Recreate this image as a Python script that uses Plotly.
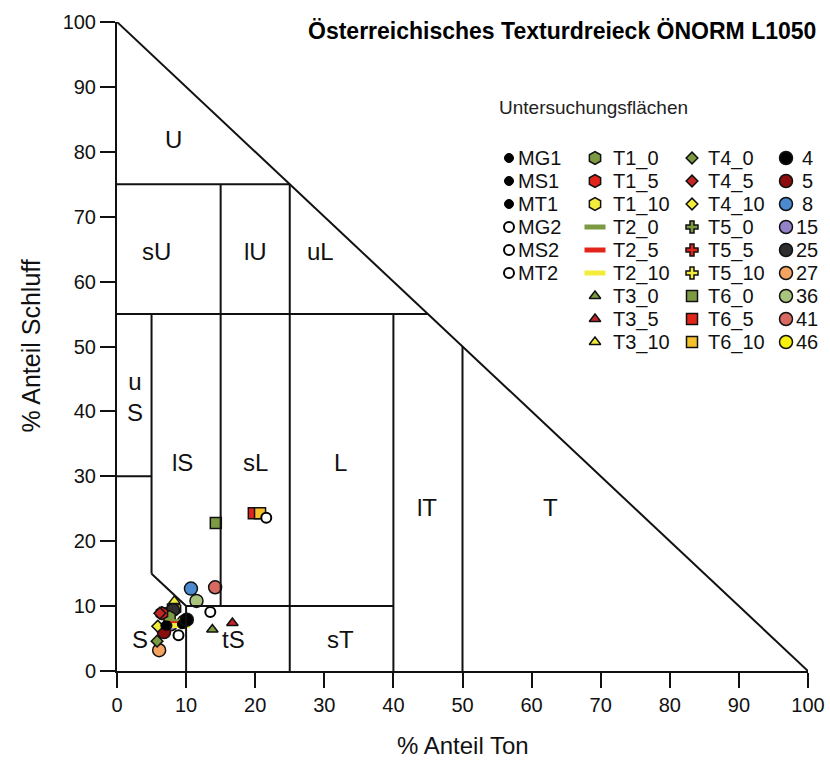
import plotly.graph_objects as go

# --- Sample data: % clay (Ton) and % silt (Schluff) per sampling plot ---
series_names = [
    "T5_0", "T5_5", "T5_10", "46", "15", "T1_10",
    "27", "5", "36", "8", "41", "25",
    "T1_0", "T1_5", "T2_0", "T2_5", "T2_10", "T3_0", "T3_5", "T3_10",
    "T4_0", "T4_5", "T4_10", "T6_0", "T6_5", "T6_10",
    "MG1", "MS1", "MT1", "MG2", "MS2", "MT2", "4",
]
ton = [
    7.2, 8.2, 7.6, 9.7, 7.8, 8.4,
    6.1, 6.8, 11.5, 10.7, 14.2, 8.1,
    7.6, 6.5, 8.6, 8.8, 9.0, 13.8, 16.7, 8.3,
    5.8, 6.2, 5.9, 14.3, 19.8, 20.7,
    7.0, 9.4, 7.3, 13.5, 8.9, 21.6, 10.1,
]
schluff = [
    8.8, 9.9, 9.4, 7.6, 7.2, 9.6,
    3.2, 6.0, 10.8, 12.7, 12.9, 9.4,
    8.3, 8.9, 7.6, 7.3, 7.0, 6.4, 7.4, 10.8,
    4.6, 8.9, 6.9, 22.8, 24.3, 24.3,
    7.0, 7.2, 7.0, 9.1, 5.5, 23.6, 7.9,
]

# Legend columns (series listed top to bottom)
legend_columns = [
    ["MG1", "MS1", "MT1", "MG2", "MS2", "MT2"],
    ["T1_0", "T1_5", "T1_10", "T2_0", "T2_5", "T2_10", "T3_0", "T3_5", "T3_10"],
    ["T4_0", "T4_5", "T4_10", "T5_0", "T5_5", "T5_10", "T6_0", "T6_5", "T6_10"],
    ["4", "5", "8", "15", "25", "27", "36", "41", "46"],
]

# ÖNORM L1050 class boundaries (clay %, silt %) segments
boundaries = [
    ((0, 100), (100, 0)),
    ((0, 75), (25, 75)),
    ((0, 55), (45, 55)),
    ((0, 30), (5, 30)),
    ((5, 55), (5, 15)),
    ((5, 15), (10, 10)),
    ((10, 10), (10, 0)),
    ((10, 10), (40, 10)),
    ((15, 75), (15, 10)),
    ((25, 75), (25, 0)),
    ((40, 55), (40, 0)),
    ((50, 50), (50, 0)),
]

# Texture class labels and their label positions (clay %, silt %)
class_labels = ["U", "sU", "lU", "uL", "u<br>S", "lS", "sL", "L", "lT", "T", "S", "tS", "sT"]
class_x = [8.2, 5.7, 20.0, 29.5, 2.6, 9.5, 20.1, 32.3, 44.8, 62.7, 3.3, 16.8, 32.3]
class_y = [81.9, 64.6, 64.6, 64.6, 42.2, 32.2, 32.2, 32.2, 25.2, 25.2, 4.8, 4.8, 4.8]

# --- Marker styles ---
GREEN, RED, YELLOW = "#7b9a42", "#e3241a", "#f4ec3a"


def style(name):
    if name in ("MG1", "MS1", "MT1"):
        return dict(symbol="circle", size=9, color="#000000", line=dict(color="#000000", width=1))
    if name in ("MG2", "MS2", "MT2"):
        return dict(symbol="circle", size=10, color="#ffffff", line=dict(color="#000000", width=2))
    if name.startswith("T"):
        group, depth = name.split("_")
        col = {"0": GREEN, "5": RED, "10": YELLOW}[depth]
        if group == "T3" and depth == "5":
            col = "#c0262a"
        if group == "T4" and depth == "5":
            col = "#c42525"
        if group == "T6" and depth == "10":
            col = "#f6c02a"
        if group == "T2":
            return dict(symbol="line-ew", size=15, color=col, line=dict(color=col, width=5))
        sym, size = {
            "T1": ("hexagon", 13), "T3": ("triangle-up", 10), "T4": ("diamond", 9),
            "T5": ("cross", 10), "T6": ("square", 11),
        }[group]
        return dict(symbol=sym, size=size, color=col, line=dict(color="#111111", width=1.5))
    num_colors = {
        "4": "#000000", "5": "#8a0c0c", "8": "#4c8ad0", "15": "#9382c8", "25": "#2e2e2e",
        "27": "#f4a460", "36": "#a9c47d", "41": "#d86a62", "46": "#f8f010",
    }
    return dict(symbol="circle", size=13, color=num_colors[name], line=dict(color="#111111", width=1.5))


fig = go.Figure()

for n, x, y in zip(series_names, ton, schluff):
    fig.add_trace(go.Scatter(
        x=[x], y=[y], mode="markers", name=n, marker=style(n), showlegend=False,
        hovertemplate=n + "<br>Ton %{x}%<br>Schluff %{y}%<extra></extra>",
    ))

for (x0, y0), (x1, y1) in boundaries:
    fig.add_shape(type="line", x0=x0, y0=y0, x1=x1, y1=y1, xref="x", yref="y",
                  line=dict(color="#111111", width=2))

annotations = []
for t, x, y in zip(class_labels, class_x, class_y):
    annotations.append(dict(text=t, x=x, y=y, xref="x", yref="y", showarrow=False,
                            xanchor="center", yanchor="middle",
                            font=dict(size=24, color="#111111")))

# --- Legend block drawn on a pixel-scaled overlay axis ---
W, H = 830, 760
L, R, T, B = 117, 22, 22, 89
col_marker_x = [509, 595, 692, 786]
col_text_x = [516, 611, 706, 807]
row_y0, row_dy = 158, 23

for ci, col in enumerate(legend_columns):
    for ri, n in enumerate(col):
        yy = row_y0 + ri * row_dy
        fig.add_trace(go.Scatter(
            x=[col_marker_x[ci]], y=[yy], xaxis="x2", yaxis="y2", mode="markers",
            marker=style(n), showlegend=False, hoverinfo="skip",
        ))
        annotations.append(dict(
            text=n, x=col_text_x[ci], y=yy, xref="x2", yref="y2", showarrow=False,
            xanchor="center" if ci == 3 else "left", yanchor="middle",
            font=dict(size=20, color="#111111"),
        ))

annotations.append(dict(text="Untersuchungsflächen", x=497, y=107, xref="x2", yref="y2",
                        showarrow=False, xanchor="left", yanchor="middle",
                        font=dict(size=19, color="#222222")))

pw, ph = W - L - R, H - T - B
annotations.append(dict(text="<b>Österreichisches Texturdreieck ÖNORM L1050</b>",
                        x=(818 - L) / pw, y=(H - B - 31) / ph, xref="paper", yref="paper",
                        showarrow=False, xanchor="right", yanchor="middle",
                        font=dict(size=23, color="#000000")))
annotations.append(dict(text="% Anteil Ton", x=0.5, y=(H - B - 745) / ph, xref="paper", yref="paper",
                        showarrow=False, xanchor="center", yanchor="middle",
                        font=dict(size=24, color="#111111")))
annotations.append(dict(text="% Anteil Schluff", x=(30 - L) / pw, y=0.5, xref="paper", yref="paper",
                        showarrow=False, xanchor="center", yanchor="middle", textangle=-90,
                        font=dict(size=25, color="#111111")))

axis_common = dict(
    range=[0, 100], tickmode="array", tickvals=list(range(0, 101, 10)),
    ticks="outside", ticklen=15, tickwidth=2, tickcolor="#111111",
    showline=True, linewidth=2, linecolor="#111111", showgrid=False, zeroline=False,
    tickfont=dict(size=20, color="#111111"), fixedrange=True, automargin=False,
)

fig.update_layout(
    width=W, height=H,
    margin=dict(l=L, r=R, t=T, b=B, pad=0, autoexpand=False),
    paper_bgcolor="white", plot_bgcolor="white",
    font=dict(family="Liberation Sans, Arial, sans-serif", color="#111111"),
    xaxis=dict(**axis_common),
    yaxis=dict(**axis_common),
    xaxis2=dict(range=[L, W - R], overlaying="x", visible=False, fixedrange=True),
    yaxis2=dict(range=[H - B, T], overlaying="y", visible=False, fixedrange=True),
    annotations=annotations,
    showlegend=False,
)

fig.write_html("out.html")
